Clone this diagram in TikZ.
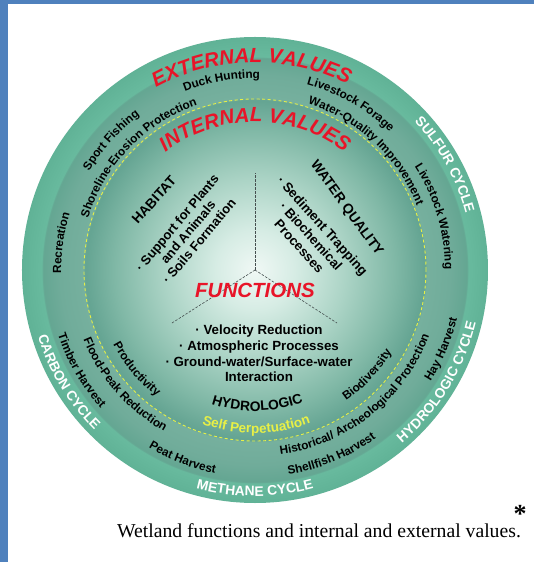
\documentclass[tikz,border=0pt]{standalone}
\usepackage{fontspec}
\setmainfont{Liberation Sans}
\newfontfamily\captionserif{Liberation Serif}
\usetikzlibrary{decorations.text}

\definecolor{frameblue}{RGB}{79,129,189}
\definecolor{titlered}{RGB}{232,20,40}
\definecolor{perpyellow}{RGB}{232,240,70}
\definecolor{spokegray}{RGB}{70,80,80}

% concentric colour profile of the disc (radius 233 <-> 25bp)
\definecolor{sh0}{RGB}{240,248,245}
\definecolor{sh1}{RGB}{214,236,228}
\definecolor{sh2}{RGB}{172,212,198}
\definecolor{sh3}{RGB}{128,184,166}
\definecolor{sh4}{RGB}{100,164,146}
\definecolor{sh5}{RGB}{118,176,158}
\definecolor{sh6}{RGB}{112,172,154}
\definecolor{sh7}{RGB}{100,166,146}
\definecolor{sh8}{RGB}{104,186,158}
\definecolor{sh9}{RGB}{96,178,150}
\pgfdeclareradialshading{wetland}{\pgfpoint{0bp}{0bp}}{%
  color(0bp)=(sh0); color(4.29bp)=(sh1); color(9.66bp)=(sh2);
  color(15.02bp)=(sh3); color(18.24bp)=(sh4); color(18.45bp)=(sh5);
  color(20.92bp)=(sh6); color(22.75bp)=(sh7); color(22.9bp)=(sh8);
  color(25bp)=(sh9); color(50bp)=(sh9)}

% fonts of the labels
\newcommand\wlvalue{\color{black}\bfseries\fontsize{11.8}{14}\selectfont}
\newcommand\wlcycle{\color{white}\bfseries\fontsize{13.8}{16}\selectfont}
\newcommand\wltitle{\color{titlered}\bfseries\itshape\fontsize{20.5}{24}\selectfont}
\newcommand\wlgroup{\color{black}\bfseries\fontsize{13.8}{16}\selectfont}
\newcommand\wlself{\color{perpyellow}\bfseries\fontsize{13.5}{16}\selectfont}

% text on an arc: radius of baseline, centre angle, font, text
% clockwise (upper half, tops outward)
\newcommand\cwlabel[4]{%
  \path[decorate, decoration={text along path, text align=center, text={|#3|#4}}]
    ({#2+80}:#1) arc[start angle={#2+80}, end angle={#2-80}, radius=#1];}
% counter-clockwise (lower half, tops inward)
\newcommand\ccwlabel[4]{%
  \path[decorate, decoration={text along path, text align=center, text={|#3|#4}}]
    ({#2-80}:#1) arc[start angle={#2-80}, end angle={#2+80}, radius=#1];}

\begin{document}
\begin{tikzpicture}[x=1pt, y=1pt,
  spoke/.style={spokegray, line width=0.6pt, dash pattern=on 2.5pt off 1.5pt},
  boundary/.style={perpyellow, line width=0.9pt, dash pattern=on 3pt off 2.5pt},
  listtext/.style={align=center, inner sep=0pt, font=\bfseries\fontsize{13.3}{15.7}\selectfont},
  grouptext/.style={inner sep=0pt, font=\bfseries\fontsize{13.8}{16}\selectfont}]
\useasboundingbox (-255,-292) rectangle (279,270);
\fill[white] (-255,-292) rectangle (279,270);

% frame strips
\fill[frameblue] (-255,266) rectangle (279,270);
\fill[frameblue] (-255,-292) rectangle (-247,270);

% the disc
\shade[shading=wetland] (0,0) circle[radius=233];
\draw[boundary] (0,0) circle[radius=171];

% spokes between the three function groups
\coordinate (hub) at (0,0);
\coordinate (spokeN) at (0,97);
\coordinate (spokeL) at (-83,-53);
\coordinate (spokeR) at (82,-53);
\draw[spoke] (hub) -- (spokeN);
\draw[spoke] (hub) -- (spokeL);
\draw[spoke] (hub) -- (spokeR);

% cycles on the rim
\cwlabel{218}{29}{\wlcycle}{SULFUR CYCLE}
\ccwlabel{227}{-31.5}{\wlcycle}{HYDROLOGIC CYCLE}
\ccwlabel{226}{-90}{\wlcycle}{METHANE CYCLE}
\ccwlabel{227}{-149}{\wlcycle}{CARBON CYCLE}

% titles
\cwlabel{207.5}{91}{\wltitle}{EXTERNAL VALUES}
\cwlabel{148}{90}{\wltitle}{INTERNAL VALUES}

% external values
\cwlabel{191.7}{100}{\wlvalue}{Duck Hunting}
\cwlabel{192.7}{60}{\wlvalue}{Livestock Forage}
\cwlabel{174.2}{47}{\wlvalue}{Water-Quality Improvement}
\cwlabel{192.7}{138}{\wlvalue}{Sport Fishing}
\cwlabel{174.7}{136}{\wlvalue}{Shoreline-Erosion Protection}
\cwlabel{193.7}{172}{\wlvalue}{Recreation}
\cwlabel{190}{16.5}{\wlvalue}{Livestock Watering}
\ccwlabel{207.8}{-23}{\wlvalue}{Hay Harvest}
\ccwlabel{207.3}{-67.5}{\wlvalue}{Shellfish Harvest}
\ccwlabel{207.3}{-111}{\wlvalue}{Peat Harvest}
\ccwlabel{207.3}{-150}{\wlvalue}{Timber Harvest}
\ccwlabel{186.3}{-51.4}{\wlvalue}{Historical/ Archeological Protection}
\ccwlabel{185.3}{-138.6}{\wlvalue}{Flood-Peak Reduction}

% internal values
\ccwlabel{160.3}{-140}{\wlvalue}{Productivity}
\ccwlabel{159.3}{-43}{\wlvalue}{Biodiversity}
\ccwlabel{163}{-89.5}{\wlself}{Self Perpetuation}
\ccwlabel{141}{-89}{\wlgroup}{HYDROLOGIC}

% function groups
\node[grouptext, rotate=48] (habitat) at (-101,70) {HABITAT};
\node[listtext, rotate=50, font=\bfseries\fontsize{13}{14.3}\selectfont] (habitatlist) at (-67,38)
  {· Support for Plants\\and Animals\\· Soils Formation};
\node[grouptext, rotate=-54] (waterquality) at (91.5,61.5) {WATER QUALITY};
\node[listtext, rotate=-48] (waterlist) at (56,34)
  {· Sediment Trapping\\· Biochemical\\Processes};
\node[inner sep=0pt, text=titlered, font=\bfseries\itshape\fontsize{20.5}{24}\selectfont] (functions) at (0,-20) {FUNCTIONS};
\node[listtext] (hydrolist) at (4,-83.5)
  {· Velocity Reduction\\· Atmospheric Processes\\· Ground-water/Surface-water\\Interaction};

% caption
\node[anchor=base, inner sep=0pt, font=\captionserif\bfseries\fontsize{26}{26}\selectfont] (star) at (265,-252.5) {*};
\node[anchor=base, inner sep=0pt, font=\captionserif\fontsize{19.7}{22}\selectfont] (caption) at (64,-267)
  {Wetland functions and internal and external values.};
\end{tikzpicture}
\end{document}
